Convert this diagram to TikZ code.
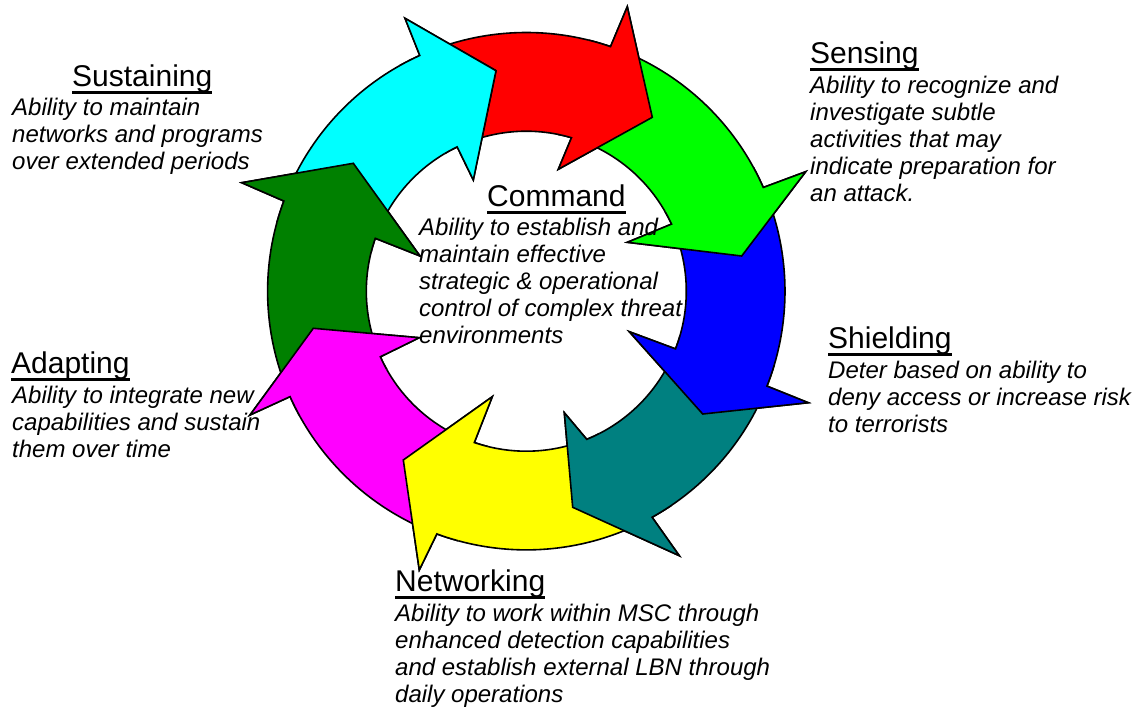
\documentclass[tikz,border=0pt]{standalone}
\usepackage{fontspec}
\setmainfont{Liberation Sans}
\definecolor{cRed}{HTML}{FF0000}
\definecolor{cGreen}{HTML}{00FF00}
\definecolor{cBlue}{HTML}{0000FF}
\definecolor{cTeal}{HTML}{008080}
\definecolor{cYellow}{HTML}{FFFF00}
\definecolor{cMagenta}{HTML}{FF00FF}
\definecolor{cDkGreen}{HTML}{008000}
\definecolor{cCyan}{HTML}{00FFFF}
\tikzset{
  ringline/.style={draw=black, line width=1.6pt, line join=miter},
  headtext/.style={anchor=base west, inner sep=0pt, font=\fontsize{30}{34}\selectfont},
  bodytext/.style={anchor=base west, inner sep=0pt, font=\fontsize{24}{27.2}\selectfont\itshape},
  uline/.style={line width=2.6pt}
}
\def\Ro{258.7pt}
\def\Ri{160pt}
% #1 colour, #2 prev outer shoulder angle, #3 prev inner shoulder angle,
% #4 outer shoulder angle, #5 inner shoulder angle, #6 outer barb, #7 tip, #8 inner barb
\newcommand\ringarrow[8]{%
  \filldraw[ringline, fill=#1] (#2:\Ro) arc[start angle=#2, end angle=#4, radius=\Ro]
    -- (#6) -- (#7) -- (#8) -- (#5:\Ri) arc[start angle=#5, end angle=#3, radius=\Ri] -- cycle;}
% #1 colour, #2 outer shoulder angle, #3 inner shoulder angle, #4 outer barb, #5 tip, #6 inner barb
\newcommand\ringhead[6]{%
  \fill[#1] ({#2+5}:\Ro) arc[start angle=#2+5, end angle=#2, radius=\Ro]
    -- (#4) -- (#5) -- (#6) -- (#3:\Ri) arc[start angle=#3, end angle=#3+5, radius=\Ri] -- cycle;
  \draw[ringline] ({#2+5}:\Ro) arc[start angle=#2+5, end angle=#2, radius=\Ro]
    -- (#4) -- (#5) -- (#6) -- (#3:\Ri) arc[start angle=#3, end angle=#3+5, radius=\Ri];}
\newcommand\heading[3]{%
  \node[headtext] (#1) at (#2) {#3};
  \draw[uline] ([yshift=-6.5pt]#1.base west) -- ([yshift=-6.5pt]#1.base east);}
\begin{document}
\begin{tikzpicture}[x=1pt,y=1pt]
\fill[white] (0,0) rectangle (1144,-707);
\path[use as bounding box] (0,0) rectangle (1144,-707);
\begin{scope}[shift={(526.3,-291.2)}]
  % bodies
  \ringarrow{cRed}{114.32}{115.6}{71.0}{73.6}{101,284.5}{126,173.9}{32,121.9}
  \ringarrow{cGreen}{71.0}{73.6}{23.64}{24.8}{279.4,119.5}{215.4,35.2}{101,48.9}
  \ringarrow{cBlue}{23.64}{24.8}{-21.52}{-21.14}{282,-111.5}{176.4,-122.8}{103,-40.5}
  \ringarrow{cTeal}{-21.52}{-21.14}{-60.9}{-67.8}{153,-264.5}{46.4,-216.1}{38,-121.5}
  \ringarrow{cYellow}{-60.9}{-67.8}{-110.23}{-108.95}{-107,-278.8}{-123,-168.8}{-34,-105.5}
  \ringarrow{cMagenta}{-110.23}{-108.95}{-155.95}{-155.8}{-276.3,-123.8}{-213,-37.1}{-107,-46.5}
  \ringarrow{cDkGreen}{-155.95}{-155.8}{-200.4}{-199.3}{-284.6,108.5}{-173,127.9}{-106.3,35.2}
  \ringarrow{cCyan}{-200.4}{-199.3}{-245.68}{-244.4}{-121.3,272.9}{-30.3,220.5}{-53,111.2}
  % heads on top
  \ringhead{cRed}{71.0}{73.6}{101,284.5}{126,173.9}{32,121.9}
  \ringhead{cGreen}{23.64}{24.8}{279.4,119.5}{215.4,35.2}{101,48.9}
  \ringhead{cBlue}{-21.52}{-21.14}{282,-111.5}{176.4,-122.8}{103,-40.5}
  \ringhead{cTeal}{-60.9}{-67.8}{153,-264.5}{46.4,-216.1}{38,-121.5}
  \ringhead{cYellow}{-110.23}{-108.95}{-107,-278.8}{-123,-168.8}{-34,-105.5}
  \ringhead{cMagenta}{-155.95}{-155.8}{-276.3,-123.8}{-213,-37.1}{-107,-46.5}
  \ringhead{cDkGreen}{-200.4}{-199.3}{-284.6,108.5}{-173,127.9}{-106.3,35.2}
  \ringhead{cCyan}{-245.68}{-244.4}{-121.3,272.9}{-30.3,220.5}{-53,111.2}
\end{scope}
% texts
\heading{hSus}{72,-86}{Sustaining}
\node[bodytext] (bSus) at (12,-115) {\begin{tabular}[t]{@{}l@{}}Ability to maintain\\networks and programs\\over extended periods\end{tabular}};
\heading{hCom}{487,-206}{Command}
\node[bodytext] (bCom) at (419,-235) {\begin{tabular}[t]{@{}l@{}}Ability to establish and\\maintain effective\\strategic \& operational\\control of complex threat\\environments\end{tabular}};
\heading{hSen}{810,-63}{Sensing}
\node[bodytext] (bSen) at (810,-93) {\begin{tabular}[t]{@{}l@{}}Ability to recognize and\\investigate subtle\\activities that may\\indicate preparation for\\an attack.\end{tabular}};
\heading{hShi}{828,-348}{Shielding}
\node[bodytext] (bShi) at (828,-378) {\begin{tabular}[t]{@{}l@{}}Deter based on ability to\\deny access or increase risk\\to terrorists\end{tabular}};
\heading{hAda}{11,-373}{Adapting}
\node[bodytext] (bAda) at (12,-403) {\begin{tabular}[t]{@{}l@{}}Ability to integrate new\\capabilities and sustain\\them over time\end{tabular}};
\heading{hNet}{395,-591}{Networking}
\node[bodytext] (bNet) at (395,-621) {\begin{tabular}[t]{@{}l@{}}Ability to work within MSC through\\enhanced detection capabilities\\and establish external LBN through\\daily operations\end{tabular}};
\end{tikzpicture}
\end{document}
